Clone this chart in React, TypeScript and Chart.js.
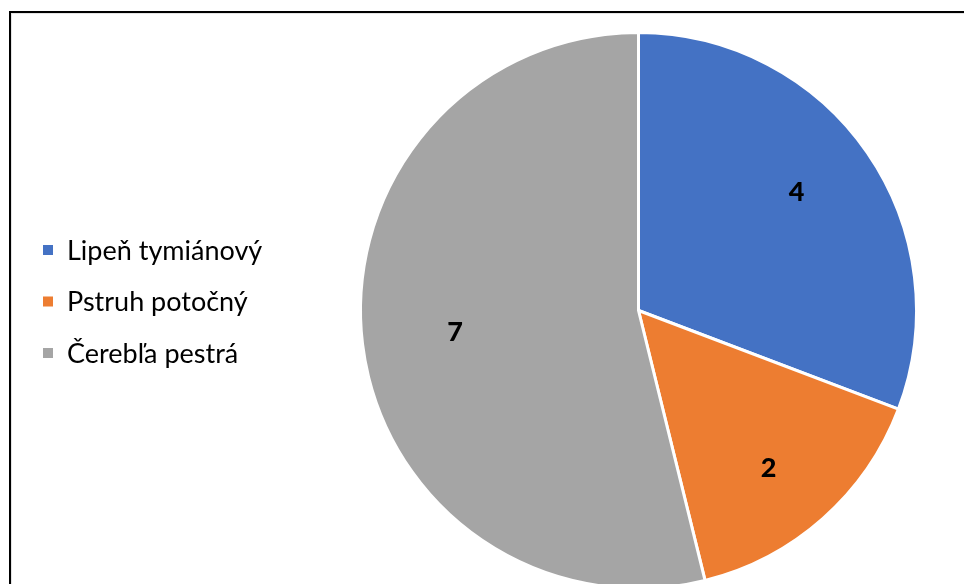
import React, { useEffect, useRef } from "react";
import { Chart, registerables } from "chart.js";

Chart.register(...registerables);

const categories = ["Lipeň tymiánový", "Pstruh potočný", "Čerebľa pestrá"];
const values = [4, 2, 7];
const colors = ["#4472C4", "#ED7D31", "#A5A5A5"];
const labelRadiusFractions = [0.71, 0.736, 0.665];
const labelAngleOffsetsDeg = [-2.2, 2.1, 0];

const FONT = "Lato, 'Open Sans', sans-serif";

const sliceLabels = {
  id: "sliceLabels",
  afterDatasetsDraw(chart: any) {
    const ctx = chart.ctx;
    const meta = chart.getDatasetMeta(0);
    ctx.save();
    ctx.fillStyle = "#000";
    ctx.font = `900 27px ${FONT}`;
    ctx.textAlign = "center";
    ctx.textBaseline = "middle";
    meta.data.forEach((arc: any, i: number) => {
      const p = arc.getProps(["x", "y", "startAngle", "endAngle", "outerRadius"], true);
      const mid = (p.startAngle + p.endAngle) / 2 + (labelAngleOffsetsDeg[i] * Math.PI) / 180;
      const r = p.outerRadius * labelRadiusFractions[i];
      ctx.fillText(String(chart.data.datasets[0].data[i]), p.x + Math.cos(mid) * r, p.y + Math.sin(mid) * r);
    });
    ctx.restore();
  },
};

const sideLegend = {
  id: "sideLegend",
  afterDraw(chart: any) {
    const ctx = chart.ctx;
    const labels = chart.data.labels as string[];
    const bg = chart.data.datasets[0].backgroundColor as string[];
    const x0 = 31;
    const yStart = 236;
    const step = 51.5;
    ctx.save();
    ctx.font = `27px ${FONT}`;
    ctx.textBaseline = "middle";
    ctx.textAlign = "left";
    labels.forEach((lab, i) => {
      const y = yStart + i * step;
      ctx.fillStyle = bg[i];
      ctx.fillRect(x0, y - 5, 10, 10);
      ctx.fillStyle = "#000";
      ctx.fillText(lab, x0 + 24, y + 1);
    });
    ctx.restore();
  },
};

export default function App() {
  const ref = useRef<HTMLCanvasElement>(null);
  useEffect(() => {
    if (!ref.current) return;
    const chart = new Chart(ref.current, {
      type: "pie",
      data: {
        labels: categories,
        datasets: [
          {
            data: values,
            backgroundColor: colors,
            borderColor: "#ffffff",
            borderWidth: 3,
          },
        ],
      },
      options: {
        animation: false,
        responsive: false,
        maintainAspectRatio: false,
        layout: { padding: { left: 347, right: 74, top: 17, bottom: 14 } },
        plugins: {
          legend: { display: false },
          tooltip: { enabled: false },
        },
      },
      plugins: [sliceLabels, sideLegend],
    });
    return () => chart.destroy();
  }, []);

  return (
    <div style={{ position: "absolute", left: 0, top: 0, width: 964, height: 584, overflow: "hidden", background: "#fff" }}>
      <div
        style={{
          position: "absolute",
          left: 9,
          top: 11,
          width: 1000,
          height: 620,
          borderLeft: "2px solid #000",
          borderTop: "2px solid #000",
        }}
      >
        <div style={{ position: "absolute", left: 0, top: 0, width: 1000, height: 620, borderLeft: "1px solid #e3e3e3", borderTop: "1px solid #e3e3e3" }}>
          <canvas ref={ref} width={980} height={590} style={{ position: "absolute", left: 0, top: 0, width: 980, height: 590 }} />
        </div>
      </div>
    </div>
  );
}
